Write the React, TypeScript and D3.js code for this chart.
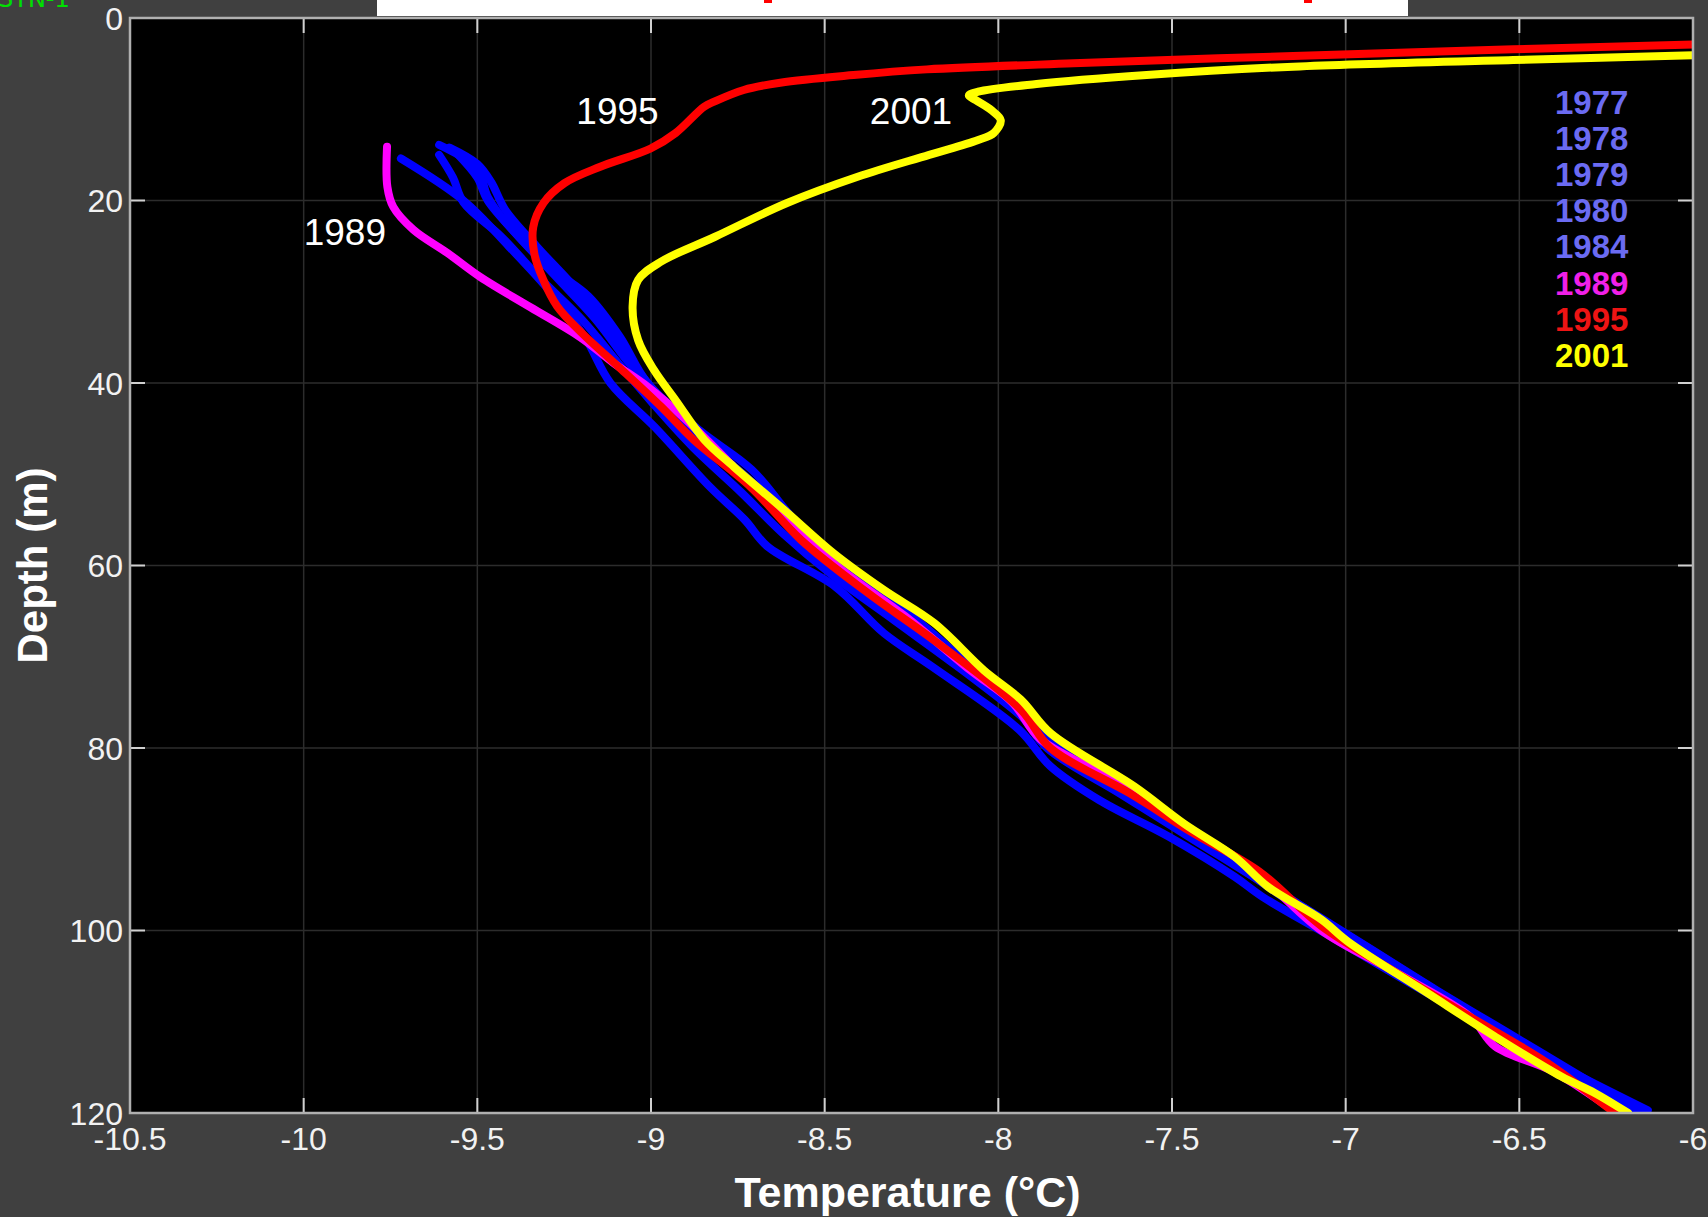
import React from "react";
import * as d3 from "d3";

// temperature profiles, [temperature °C, depth m]
const years = ["1977", "1978", "1979", "1980", "1984", "1989", "1995", "2001"];
const labelColors = ["#6b6bf2", "#6b6bf2", "#6b6bf2", "#6b6bf2", "#6b6bf2", "#f020e8", "#ee1414", "#ffff00"];
const lineColors = ["#0000ff", "#0000ff", "#0000ff", "#0000ff", "#0000ff", "#ff00ff", "#ff0000", "#ffff00"];

const p1977 = [[-9.72,15.4],[-9.54,20],[-9.41,25],[-9.29,30],[-9.19,35],[-9.117,40],[-8.99,44.8],[-8.83,51.4],[-8.73,55],[-8.665,57.9],[-8.47,62.3],[-8.33,67.4],[-8.19,71.1],[-7.94,78],[-7.85,82],[-7.71,85.7],[-7.51,89.7],[-7.32,94.1],[-7.24,96.3],[-7.05,100.5],[-6.85,105],[-6.62,110],[-6.38,114.9],[-6.13,119.7]];
const p1978 = [[-9.61,13.9],[-9.5,16.5],[-9.47,19.6],[-9.4,23.2],[-9.28,27.6],[-9.18,30.5],[-9.09,34.9],[-9.01,40],[-8.86,45.2],[-8.71,49.5],[-8.57,55.7],[-8.38,61.6],[-8.19,67.4],[-7.94,76.2],[-7.86,80],[-7.65,85],[-7.44,90],[-7.23,95],[-7.03,100],[-6.83,105],[-6.63,110],[-6.4,115],[-6.16,120]];
const p1979 = [[-9.61,15],[-9.57,17.5],[-9.54,20.2],[-9.43,24],[-9.32,28.5],[-9.2,33],[-9.09,38],[-9.0,42],[-8.88,47],[-8.74,52],[-8.62,56.5],[-8.48,61],[-8.3,66],[-8.12,71],[-7.95,76],[-7.8,81],[-7.62,85.5],[-7.45,89.5],[-7.27,94],[-7.08,99],[-6.88,104],[-6.66,109],[-6.44,114],[-6.18,119.8]];
const p1980 = [[-9.58,14.2],[-9.5,16],[-9.46,18],[-9.42,21],[-9.33,25],[-9.22,29.5],[-9.12,34],[-9.04,38.5],[-8.94,43],[-8.8,48],[-8.66,53],[-8.52,58],[-8.36,63],[-8.18,68.5],[-8.0,74],[-7.86,79],[-7.7,83.5],[-7.52,88],[-7.33,92.5],[-7.14,97],[-6.95,101.5],[-6.74,106.5],[-6.52,111.5],[-6.3,116.5],[-6.15,120]];
const p1984 = [[-9.56,14.8],[-9.5,17.5],[-9.47,20],[-9.38,24],[-9.27,28.5],[-9.16,33],[-9.07,37.5],[-8.97,42],[-8.84,46.5],[-8.69,51.5],[-8.56,56],[-8.42,61],[-8.25,66],[-8.08,71],[-7.93,76],[-7.82,80],[-7.64,84.5],[-7.46,89],[-7.28,93.5],[-7.1,98],[-6.91,102.5],[-6.7,107.5],[-6.48,112.5],[-6.26,117.5],[-6.14,120]];
const p1989 = [[-9.76,14.1],[-9.759,18.5],[-9.742,20.7],[-9.684,23.2],[-9.586,25.75],[-9.491,28.4],[-9.347,31.7],[-9.203,35],[-9.108,37.8],[-9.01,40.4],[-8.9,44],[-8.78,48.5],[-8.63,54.5],[-8.45,60.5],[-8.27,65.5],[-8.08,71.5],[-7.96,75],[-7.88,79],[-7.72,82.5],[-7.55,86.5],[-7.4,90],[-7.27,93.2],[-7.07,100],[-6.86,104.5],[-6.64,109.5],[-6.57,112.7],[-6.4,115.5],[-6.22,120]];
const p1995 = [[-5.9,2.82],[-6.518,3.43],[-7.151,4.16],[-7.784,4.97],[-8.206,5.63],[-8.417,6.25],[-8.628,7.09],[-8.733,7.89],[-8.818,9.17],[-8.847,9.72],[-8.929,12.6],[-9.001,14.3],[-9.146,16.3],[-9.249,18.1],[-9.31,20.3],[-9.339,22.9],[-9.336,25.8],[-9.31,28.7],[-9.27,31.6],[-9.197,34.6],[-9.094,38.2],[-8.971,42.6],[-8.878,46.2],[-8.713,51.4],[-8.568,57.2],[-8.376,63],[-8.185,68.2],[-7.935,75.8],[-7.85,80],[-7.62,85],[-7.44,89.3],[-7.25,93.5],[-7.07,99.5],[-6.86,104.5],[-6.64,109.5],[-6.42,114.5],[-6.225,120]];
const p2001 = [[-5.9,4.0],[-6.518,4.6],[-7.151,5.33],[-7.573,6.25],[-7.89,7.23],[-8.058,8.07],[-8.085,8.5],[-8.065,9.0],[-8.02,10.1],[-7.993,11.2],[-8.013,12.6],[-8.06,13.4],[-8.199,15],[-8.405,17.4],[-8.61,20.3],[-8.817,24],[-8.971,26.7],[-9.037,28.7],[-9.053,31.6],[-9.037,35.3],[-8.991,38.6],[-8.929,41.9],[-8.847,46.2],[-8.761,49.2],[-8.617,53.9],[-8.473,58.7],[-8.329,62.7],[-8.185,66.3],[-8.041,71.5],[-7.935,74.7],[-7.849,78.4],[-7.609,84.2],[-7.465,88.3],[-7.32,91.9],[-7.224,95.2],[-7.07,98.8],[-6.994,101.2],[-6.763,106.9],[-6.571,111.6],[-6.379,116],[-6.283,117.8],[-6.187,120]];
const profiles = [p1977, p1978, p1979, p1980, p1984, p1989, p1995, p2001];

// curve labels inside the plot: [text, temperature, depth]
const curveLabels = [["1995", -9.215, 11.6], ["2001", -8.37, 11.6], ["1989", -10.0, 24.9]];

const xTicks = [-10.5, -10, -9.5, -9, -8.5, -8, -7.5, -7, -6.5, -6];
const yTicks = [0, 20, 40, 60, 80, 100, 120];

const W = 1708, H = 1217;
const margin = { top: 18, right: 15, bottom: 104, left: 130 };

function App() {
  const x = d3.scaleLinear().domain([-10.5, -6]).range([margin.left, W - margin.right]);
  const y = d3.scaleLinear().domain([0, 120]).range([margin.top, H - margin.bottom]);
  const line = d3.line<number[]>()
    .x((d) => x(d[0]))
    .y((d) => y(d[1]))
    .curve(d3.curveCatmullRom.alpha(0.5));

  const x0 = x(-10.5), x1 = x(-6), y0 = y(0), y1 = y(120);
  const font = "'Liberation Sans', Arial, Helvetica, sans-serif";
  const tickLen = 15;

  return (
    <div style={{ position: "absolute", left: 0, top: 0, width: W, height: H }}>
      <svg width={W} height={H} style={{ display: "block", fontFamily: font }}>
        <rect x={0} y={0} width={W} height={H} fill="#404040" />
        <text x={-2} y={7} fill="#00e000" fontFamily="'DejaVu Sans', sans-serif" fontSize={24}>STN-1</text>
        <rect x={377} y={0} width={1031} height={16} fill="#ffffff" />
        <rect x={764} y={0} width={8} height={3} fill="#ff0000" />
        <rect x={1304} y={0} width={8} height={3} fill="#ff0000" />
        <defs>
          <clipPath id="plot">
            <rect x={x0} y={y0} width={x1 - x0} height={y1 - y0} />
          </clipPath>
        </defs>
        <rect x={x0} y={y0} width={x1 - x0} height={y1 - y0} fill="#000000" />
        {xTicks.map((t) => (
          <line key={"gx" + t} x1={x(t)} x2={x(t)} y1={y0} y2={y1} stroke="#2c2c2c" strokeWidth={1.5} />
        ))}
        {yTicks.map((t) => (
          <line key={"gy" + t} x1={x0} x2={x1} y1={y(t)} y2={y(t)} stroke="#2c2c2c" strokeWidth={1.5} />
        ))}
        <g clipPath="url(#plot)">
          {profiles.map((p, i) => (
            <path key={years[i]} d={line(p) || ""} fill="none" stroke={lineColors[i]} strokeWidth={8}
              strokeLinejoin="round" strokeLinecap="round" />
          ))}
        </g>
        {xTicks.map((t) => (
          <g key={"tx" + t}>
            <line x1={x(t)} x2={x(t)} y1={y1} y2={y1 - tickLen} stroke="#d0d0d0" strokeWidth={2} />
            <line x1={x(t)} x2={x(t)} y1={y0} y2={y0 + tickLen} stroke="#d0d0d0" strokeWidth={2} />
            <text x={x(t)} y={1150} textAnchor="middle" fill="#f2f2f2" fontSize={32}>{t}</text>
          </g>
        ))}
        {yTicks.map((t) => (
          <g key={"ty" + t}>
            <line x1={x0} x2={x0 + tickLen} y1={y(t)} y2={y(t)} stroke="#d0d0d0" strokeWidth={2} />
            <line x1={x1} x2={x1 - tickLen} y1={y(t)} y2={y(t)} stroke="#d0d0d0" strokeWidth={2} />
            <text x={123} y={y(t)} dy="0.36em" textAnchor="end" fill="#f2f2f2" fontSize={32}>{t}</text>
          </g>
        ))}
        <rect x={x0} y={y0} width={x1 - x0} height={y1 - y0} fill="none" stroke="#b0b0b0" strokeWidth={2.5} />
        {curveLabels.map((l) => (
          <text key={l[0] as string} x={x(l[1] as number)} y={y(l[2] as number)} fill="#ffffff" fontSize={37}>{l[0]}</text>
        ))}
        {years.map((yr, i) => (
          <text key={"lg" + yr} x={1555} y={113.5 + i * 36.2} fill={labelColors[i]} fontSize={33} fontWeight="bold">{yr}</text>
        ))}
        <text x={(x0 + x1) / 2 - 4} y={1207} textAnchor="middle" fill="#ffffff" fontSize={43} fontWeight="bold">Temperature (°C)</text>
        <text transform={`translate(47,${(y0 + y1) / 2}) rotate(-90)`} textAnchor="middle" fill="#ffffff" fontSize={42} fontWeight="bold">Depth (m)</text>
      </svg>
    </div>
  );
}

export default App;
